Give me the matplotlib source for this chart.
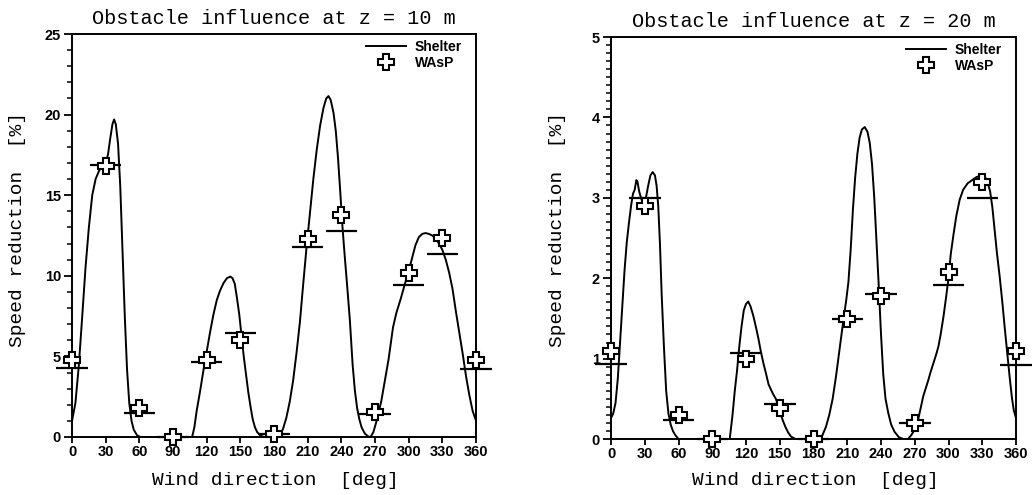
import matplotlib
matplotlib.use("Agg")
import matplotlib.pyplot as plt
from matplotlib.ticker import MultipleLocator

# ---------------- data ----------------
sector_dirs = [0, 30, 60, 90, 120, 150, 180, 210, 240, 270, 300, 330, 360]
xtick_labels = ["0", "30", "60", "90", "120", "150", "180", "210", "240", "270", "300", "330", "360"]

# z = 10 m : Shelter model curve
shelter10_dir = [0, 3, 6, 9, 12, 15, 18, 21, 24, 27, 30, 32, 34, 36, 37.5, 39, 41, 43, 45, 47, 49,
                 51, 53, 55, 58, 61, 107, 109, 111, 114, 117, 120, 123, 126, 129, 132, 135, 138,
                 141, 143, 145, 147, 149, 151, 153, 155, 157, 159, 161, 163, 165, 168, 171, 182,
                 185, 188, 191, 194, 197, 200, 203, 206, 209, 212, 215, 218, 221, 224, 226.5,
                 228.5, 230.5, 233, 235, 237, 239, 241, 243, 245, 247.5, 250, 252, 254, 256, 258,
                 261, 264, 266, 268.5, 271, 273, 275.5, 278, 280, 282, 284, 286, 289, 293, 297,
                 300, 303, 306, 309, 312, 315, 318, 321, 324, 327, 330, 333, 336, 339, 342, 345,
                 348, 351, 354, 357, 359, 360]
shelter10_val = [1.0, 2.1, 4.4, 7.4, 10.5, 13.0, 15.0, 16.0, 16.5, 16.9, 17.1, 17.5, 18.5, 19.4,
                 19.7, 19.4, 18.2, 15.5, 11.5, 7.5, 4.2, 2.1, 1.0, 0.45, 0.1, 0.0, 0.0, 0.6, 1.6,
                 2.8, 4.1, 5.3, 6.5, 7.6, 8.5, 9.1, 9.55, 9.85, 9.95, 9.85, 9.5, 8.6, 7.6, 6.3,
                 5.0, 3.9, 2.8, 1.9, 1.1, 0.6, 0.3, 0.08, 0.0, 0.0, 0.1, 0.5, 1.2, 2.2, 3.5, 5.2,
                 7.1, 9.5, 11.8, 13.9, 16.0, 17.8, 19.3, 20.4, 21.0, 21.15, 20.9, 20.1, 19.0,
                 17.3, 15.2, 13.0, 11.2, 9.5, 7.3, 4.5, 2.9, 1.8, 1.1, 0.6, 0.2, 0.03, 0.0, 0.3,
                 0.9, 1.5, 2.2, 3.2, 4.0, 4.8, 5.8, 6.8, 7.7, 8.6, 9.6, 10.3, 11.1, 11.9, 12.4,
                 12.6, 12.65, 12.6, 12.5, 12.3, 12.0, 11.6, 11.0, 10.2, 9.2, 7.8, 6.5, 5.2, 3.8,
                 2.6, 1.6, 1.2, 1.0]
wasp10 = [4.8, 16.8, 1.78, 0.0, 4.8, 6.0, 0.2, 12.3, 13.8, 1.57, 10.15, 12.35, 4.78]
sector10 = [4.3, 16.9, 1.46, 0.0, 4.67, 6.47, 0.17, 11.8, 12.78, 1.43, 9.4, 11.33, 4.2]

# z = 20 m : Shelter model curve
shelter20_dir = [0, 2, 4, 6, 8, 10, 12, 14, 16, 18, 19.5, 21, 22.5, 23.5, 25, 27, 29, 31, 33, 35,
                 37, 39, 40.5, 42, 43.5, 45, 47, 49, 51, 53, 55, 57, 60, 105.5, 108, 110, 112,
                 114, 116, 118, 120, 122, 124, 126.5, 129, 131, 133, 135.5, 138, 140, 142, 144,
                 146.5, 149, 151, 153, 155, 157.5, 160, 164, 186, 188, 191, 194, 197, 200, 203,
                 206, 209, 211, 213, 215, 217, 219, 221, 223, 225.5, 228, 230, 232, 234, 236,
                 238, 240, 242, 244, 246.5, 249, 252, 256, 260, 264, 267, 270, 273, 275.5, 277.5,
                 280, 282, 284, 286.5, 289, 291, 293, 295.5, 298, 300, 302, 304.5, 307, 310,
                 313, 317, 321, 325, 329, 332.5, 335, 337, 339, 341, 343, 345.5, 348, 350, 352,
                 354.5, 356.5, 358, 360]
shelter20_val = [0.26, 0.32, 0.45, 0.75, 1.2, 1.65, 2.1, 2.45, 2.7, 2.92, 3.05, 3.1, 3.22, 3.2,
                 3.08, 2.98, 2.96, 3.0, 3.15, 3.28, 3.32, 3.28, 3.15, 2.89, 2.42, 1.8, 1.15, 0.6,
                 0.32, 0.18, 0.1, 0.05, 0.0, 0.0, 0.3, 0.6, 0.85, 1.15, 1.4, 1.6, 1.68, 1.71,
                 1.65, 1.53, 1.38, 1.25, 1.1, 0.94, 0.8, 0.68, 0.62, 0.56, 0.5, 0.4, 0.3, 0.22,
                 0.15, 0.08, 0.03, 0.0, 0.0, 0.05, 0.15, 0.3, 0.5, 0.78, 1.1, 1.42, 1.72, 1.95,
                 2.35, 2.85, 3.25, 3.55, 3.75, 3.85, 3.88, 3.82, 3.68, 3.42, 3.0, 2.45, 1.9, 1.3,
                 0.8, 0.5, 0.32, 0.18, 0.09, 0.02, 0.0, 0.0, 0.05, 0.12, 0.24, 0.4, 0.53, 0.64,
                 0.73, 0.83, 0.94, 1.05, 1.15, 1.3, 1.52, 1.78, 2.0, 2.3, 2.55, 2.78, 2.98, 3.1,
                 3.18, 3.22, 3.26, 3.27, 3.26, 3.18, 3.08, 2.88, 2.6, 2.32, 2.02, 1.68, 1.38, 1.1,
                 0.75, 0.5, 0.36, 0.26]
wasp20 = [1.09, 2.9, 0.3, 0.0, 0.99, 0.38, 0.0, 1.49, 1.78, 0.2, 2.08, 3.2, 1.09]
sector20 = [0.93, 3.0, 0.24, 0.0, 1.07, 0.44, 0.0, 1.49, 1.8, 0.2, 1.92, 3.0, 0.92]

titles = ["Obstacle influence at z = 10 m", "Obstacle influence at z = 20 m"]
xlabel = "Wind direction  [deg]"
ylabel = "Speed reduction  [%]"

# ---------------- figure ----------------
fig = plt.figure(figsize=(10.32, 4.95), dpi=100)
axL = fig.add_axes([0.0698, 0.1172, 0.3915, 0.8141])
axR = fig.add_axes([0.5921, 0.1131, 0.3924, 0.8121])

mono = "Liberation Mono"
sans = "Liberation Sans"

panels = [
    (axL, shelter10_dir, shelter10_val, wasp10, sector10, 25, 5, 1, (-0.134, 0.516), (0.504, -0.107)),
    (axR, shelter20_dir, shelter20_val, wasp20, sector20, 5, 1, 0.1, (-0.131, 0.52), (0.504, -0.102)),
]

for i, (ax, cd, cv, wv, sv, ymax, ymaj, ymin, ylc, xlc) in enumerate(panels):
    ax.plot(cd, cv, color="black", lw=1.4, label="Shelter", solid_joinstyle="round")
    ax.hlines(sv, [d - 14 for d in sector_dirs], [d + 14 for d in sector_dirs],
              color="black", lw=1.6, clip_on=False)
    ax.plot(sector_dirs, wv, linestyle="none", marker="P", markersize=11,
            markerfacecolor="white", markeredgecolor="black", markeredgewidth=1.5,
            clip_on=False, label="WAsP", zorder=5)

    ax.set_xlim(0, 360)
    ax.set_ylim(0, ymax)
    ax.set_xticks(sector_dirs)
    ax.set_xticklabels(xtick_labels)
    ax.yaxis.set_major_locator(MultipleLocator(ymaj))
    ax.yaxis.set_minor_locator(MultipleLocator(ymin))
    ax.tick_params(axis="y", which="major", direction="out", length=6, width=1.3, pad=2)
    ax.tick_params(axis="y", which="minor", direction="out", length=3.5, width=1.1)
    ax.tick_params(axis="x", which="major", direction="out", length=4, width=1.3, pad=1.5)
    for lab in ax.get_xticklabels() + ax.get_yticklabels():
        lab.set_fontfamily(sans)
        lab.set_fontweight("bold")
        lab.set_fontsize(10.5)
    for sp in ax.spines.values():
        sp.set_linewidth(1.4)

    ax.set_title(titles[i], fontfamily=mono, fontsize=14.5, pad=7)
    ax.set_xlabel(xlabel, fontfamily=mono, fontsize=14)
    ax.xaxis.set_label_coords(*xlc)
    ax.xaxis.label.set_va("center")
    ax.set_ylabel(ylabel, fontfamily=mono, fontsize=14)
    ax.yaxis.set_label_coords(*ylc)
    ax.yaxis.label.set_va("center")
    ax.yaxis.label.set_ha("center")

    leg = ax.legend(loc="upper right", bbox_to_anchor=(0.965, 0.985), frameon=False,
                    handlelength=2.9, handletextpad=0.6, labelspacing=0.15,
                    borderpad=0, borderaxespad=0,
                    prop={"family": sans, "weight": "bold", "size": 10}, numpoints=1)

fig.savefig("out.png", dpi=100)
